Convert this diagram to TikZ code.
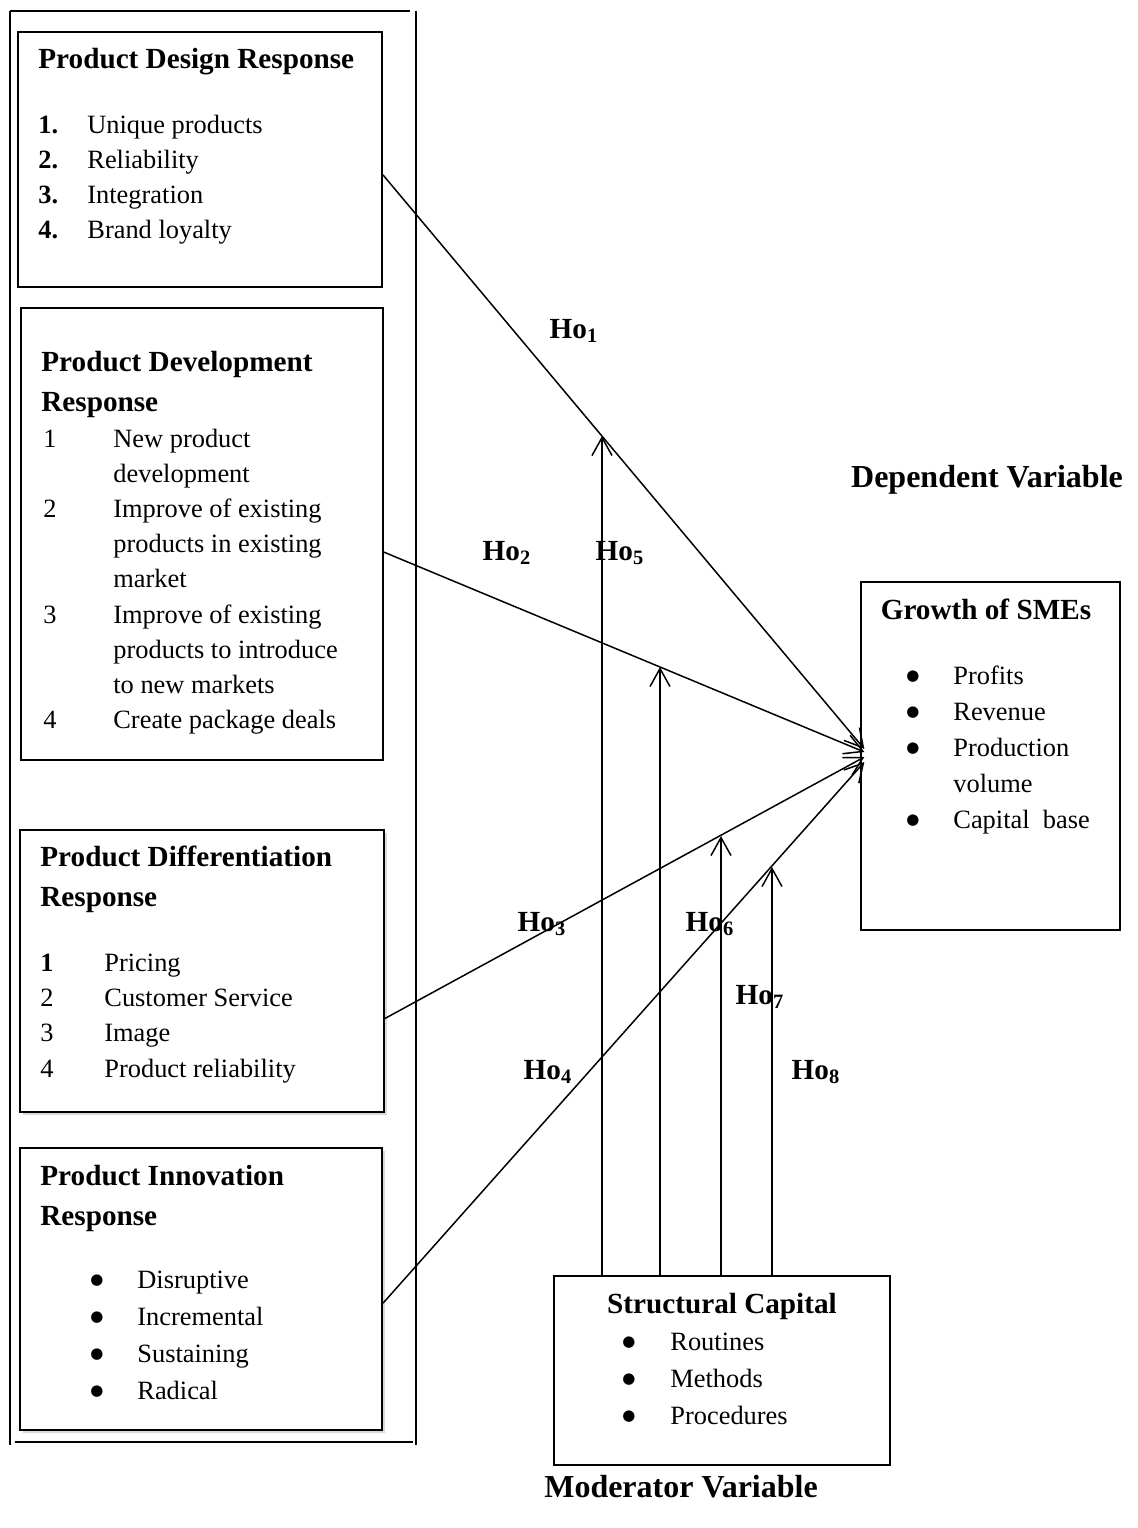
\documentclass[tikz,border=0pt]{standalone}
\usepackage{fontspec}
\setmainfont{Liberation Serif}
\newfontfamily\dejavu{DejaVu Sans}
\usetikzlibrary{arrows.meta,calc,fit,shadows}

\newcommand{\hdfont}{\fontsize{14.6}{20}\selectfont\bfseries}
\newcommand{\lsfont}[1]{\fontsize{13.2}{#1}\selectfont}
\newcommand{\bul}{\raisebox{1.8pt}{\dejavu\fontsize{7.5}{7.5}\selectfont ●}}

\begin{document}
\begin{tikzpicture}[x=0.5pt, y=-0.5pt,
  box/.style={draw, line width=1pt, fill=white, inner sep=0pt},
  shbox/.style={box, drop shadow={shadow xshift=1.5pt, shadow yshift=-1.5pt, opacity=0.3}},
  thinbox/.style={draw, line width=0.65pt, inner sep=0pt},
  hd/.style={font=\hdfont, inner sep=0pt, anchor=base west},
  lst/.style={inner sep=0pt, anchor=base west},
  ho/.style={font=\hdfont, inner sep=0pt},
  arr/.style={line width=0.75pt, -{Straight Barb[length=9pt, width=10pt]}},
  frame/.style={line width=1pt}]
  \useasboundingbox (0,0) rectangle (1137,1528);

  % outer frame round the independent variables
  \draw[frame] (10,11) -- (410,11);
  \draw[frame] (10,11) -- (10,1445);
  \draw[frame] (416,11) -- (416,1445);
  \draw[frame] (15,1442) -- (413,1442);

  % product design response
  \node[box, fit={(18,32) (382,287)}] (pdr) {};
  \node[hd] (pdrh) at (38,68) {Product Design Response};
  \node[lst, font=\lsfont{17.5}] (pdrl) at (38,133) {%
    \begin{tabular}[t]{@{}p{24.5pt}@{}l@{}}
      \textbf{1.} & Unique products\\
      \textbf{2.} & Reliability\\
      \textbf{3.} & Integration\\
      \textbf{4.} & Brand loyalty
    \end{tabular}};

  % product development response
  \node[box, fit={(21,308) (383,760)}] (pdv) {};
  \node[hd] (pdvh) at (41,371) {%
    \begin{tabular}[t]{@{}l@{}}Product Development\\Response\end{tabular}};
  \node[lst, font=\lsfont{17.6}] (pdvl) at (43,447) {%
    \begin{tabular}[t]{@{}p{35pt}@{}l@{}}
      1 & New product\\
        & development\\
      2 & Improve of existing\\
        & products in existing\\
        & market\\
      3 & Improve of existing\\
        & products to introduce\\
        & to new markets\\
      4 & Create package deals
    \end{tabular}};

  % product differentiation response
  \node[shbox, fit={(20,830) (384,1112)}] (pdf) {};
  \node[hd] (pdfh) at (40,866) {%
    \begin{tabular}[t]{@{}l@{}}Product Differentiation\\Response\end{tabular}};
  \node[lst, font=\lsfont{17.7}] (pdfl) at (40,971) {%
    \begin{tabular}[t]{@{}p{32pt}@{}l@{}}
      \textbf{1} & Pricing\\
      2 & Customer Service\\
      3 & Image\\
      4 & Product reliability
    \end{tabular}};

  % product innovation response
  \node[shbox, fit={(20,1148) (382,1430)}] (pin) {};
  \node[hd] (pinh) at (40,1185) {%
    \begin{tabular}[t]{@{}l@{}}Product Innovation\\Response\end{tabular}};
  \node[lst, font=\lsfont{18.5}] (pinl) at (90,1288) {%
    \begin{tabular}[t]{@{}p{23.5pt}@{}l@{}}
      \bul & Disruptive\\
      \bul & Incremental\\
      \bul & Sustaining\\
      \bul & Radical
    \end{tabular}};

  % dependent variable
  \node[font=\fontsize{16}{19}\selectfont\bfseries, anchor=base] (dv) at (987,487) {Dependent Variable};
  \node[thinbox, fit={(861,582) (1120,930)}] (gr) {};
  \node[font=\hdfont, inner sep=0pt, anchor=base] (grh) at (986,619) {Growth of SMEs};
  \node[lst, font=\lsfont{18}] (grl) at (906,684) {%
    \begin{tabular}[t]{@{}p{23.5pt}@{}l@{}}
      \bul & Profits\\
      \bul & Revenue\\
      \bul & Production\\
           & volume\\
      \bul & Capital\ \ base
    \end{tabular}};

  % moderator variable
  \node[thinbox, fit={(554,1276) (890,1465)}] (sc) {};
  \node[font=\hdfont, inner sep=0pt, anchor=base] (sch) at (722,1313) {Structural Capital};
  \node[lst, font=\lsfont{18.5}] (scl) at (622,1350) {%
    \begin{tabular}[t]{@{}p{24pt}@{}l@{}}
      \bul & Routines\\
      \bul & Methods\\
      \bul & Procedures
    \end{tabular}};
  \node[font=\fontsize{16}{19}\selectfont\bfseries, anchor=base] (mv) at (681,1497) {Moderator Variable};

  % direct paths
  \draw[arr] ($(pdr.north east)!0.56!(pdr.south east)$) -- ($(gr.west)+(4,-7)$);
  \draw[arr] ($(pdv.north east)!0.54!(pdv.south east)$) -- ($(gr.west)+(4,-4)$);
  \draw[arr] ($(pdf.north east)!0.667!(pdf.south east)$) -- ($(gr.west)+(4,1)$);
  \draw[arr] ($(pin.north east)!0.55!(pin.south east)$) -- ($(gr.west)+(4,6)$);

  % moderating paths
  \coordinate (t5) at (602,436);
  \coordinate (t6) at (660,667);
  \coordinate (t7) at (721,836);
  \coordinate (t8) at (772,867);
  \draw[arr] (sc.north -| t5) -- (t5);
  \draw[arr] (sc.north -| t6) -- (t6);
  \draw[arr] (sc.north -| t7) -- (t7);
  \draw[arr] (sc.north -| t8) -- (t8);

  % hypothesis labels
  \node[ho] (h1) at (574,331) {Ho\textsubscript{1}};
  \node[ho] (h2) at (507,553) {Ho\textsubscript{2}};
  \node[ho] (h5) at (620,553) {Ho\textsubscript{5}};
  \node[ho] (h3) at (542,924) {Ho\textsubscript{3}};
  \node[ho] (h6) at (710,924) {Ho\textsubscript{6}};
  \node[ho] (h7) at (760,997) {Ho\textsubscript{7}};
  \node[ho] (h4) at (548,1072) {Ho\textsubscript{4}};
  \node[ho] (h8) at (816,1072) {Ho\textsubscript{8}};
\end{tikzpicture}
\end{document}
